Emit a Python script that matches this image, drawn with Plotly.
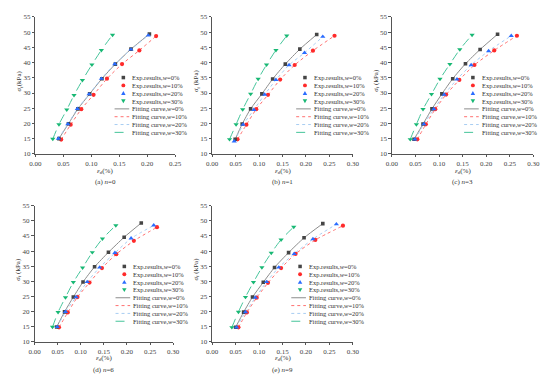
import plotly.graph_objects as go

W, H = 550, 374

# ---------------- data ----------------
W_LABELS = ["0%", "10%", "20%", "30%"]
X_TICKS_A = [0.00, 0.05, 0.10, 0.15, 0.20, 0.25]
X_TICKS = [0.00, 0.05, 0.10, 0.15, 0.20, 0.25, 0.30]
Y_TICKS = [10, 15, 20, 25, 30, 35, 40, 45, 50, 55]

# panel (a) n=0
A_x0 = [0.042, 0.059, 0.076, 0.097, 0.119, 0.143, 0.171, 0.204]
A_y0 = [15.0, 19.9, 24.8, 29.7, 34.7, 39.5, 44.4, 49.4]
A_x10 = [0.046, 0.063, 0.082, 0.104, 0.128, 0.155, 0.186, 0.216]
A_y10 = [14.7, 19.6, 24.7, 29.4, 34.7, 39.5, 44.0, 48.7]
A_x20 = [0.041, 0.058, 0.075, 0.096, 0.118, 0.142, 0.171, 0.202]
A_y20 = [15.0, 19.8, 24.8, 29.6, 34.7, 39.5, 44.3, 48.9]
A_x30 = [0.031, 0.042, 0.056, 0.069, 0.084, 0.101, 0.118, 0.138]
A_y30 = [14.9, 19.7, 24.5, 29.3, 34.2, 39.3, 44.1, 49.1]

# panel (b) n=1
B_x0 = [0.049, 0.064, 0.082, 0.106, 0.129, 0.156, 0.187, 0.223]
B_y0 = [14.8, 19.8, 24.8, 29.7, 34.6, 39.5, 44.4, 49.2]
B_x10 = [0.054, 0.073, 0.094, 0.119, 0.145, 0.176, 0.215, 0.261]
B_y10 = [14.8, 19.6, 24.7, 29.4, 34.4, 39.2, 43.9, 48.8]
B_x20 = [0.047, 0.066, 0.089, 0.112, 0.136, 0.164, 0.197, 0.236]
B_y20 = [14.1, 19.6, 24.5, 29.5, 34.3, 39.2, 43.2, 48.5]
B_x30 = [0.037, 0.051, 0.065, 0.082, 0.098, 0.116, 0.136, 0.159]
B_y30 = [14.8, 19.7, 24.6, 29.7, 34.6, 39.3, 44.1, 48.8]

# panel (c) n=3
C_x0 = [0.047, 0.066, 0.085, 0.106, 0.129, 0.156, 0.187, 0.224]
C_y0 = [14.8, 19.8, 24.8, 29.7, 34.7, 39.6, 44.3, 49.3]
C_x10 = [0.054, 0.072, 0.092, 0.115, 0.143, 0.175, 0.217, 0.265]
C_y10 = [14.8, 19.7, 24.7, 29.5, 34.3, 39.2, 44.0, 48.8]
C_x20 = [0.049, 0.068, 0.089, 0.111, 0.138, 0.168, 0.205, 0.253]
C_y20 = [14.8, 19.8, 24.7, 29.5, 34.5, 39.2, 43.8, 48.8]
C_x30 = [0.039, 0.052, 0.066, 0.084, 0.102, 0.123, 0.144, 0.170]
C_y30 = [14.8, 19.7, 24.7, 29.6, 34.6, 39.5, 44.3, 49.1]

# panel (d) n=6
D_x0 = [0.048, 0.065, 0.084, 0.105, 0.130, 0.160, 0.194, 0.231]
D_y0 = [14.9, 19.9, 24.8, 29.8, 34.8, 39.6, 44.6, 49.3]
D_x10 = [0.053, 0.072, 0.093, 0.119, 0.146, 0.177, 0.215, 0.265]
D_y10 = [14.8, 19.7, 24.8, 29.6, 34.4, 39.0, 43.4, 47.9]
D_x20 = [0.049, 0.067, 0.090, 0.114, 0.141, 0.174, 0.209, 0.258]
D_y20 = [14.9, 19.9, 24.8, 29.8, 34.6, 39.4, 44.2, 48.5]
D_x30 = [0.039, 0.051, 0.067, 0.084, 0.104, 0.125, 0.147, 0.176]
D_y30 = [14.9, 19.8, 24.7, 29.7, 34.5, 39.6, 44.1, 48.5]

# panel (e) n=9
E_x0 = [0.050, 0.067, 0.086, 0.109, 0.133, 0.163, 0.196, 0.236]
E_y0 = [14.8, 19.8, 24.8, 29.7, 34.6, 39.5, 44.4, 49.1]
E_x10 = [0.056, 0.074, 0.095, 0.119, 0.147, 0.178, 0.220, 0.279]
E_y10 = [14.8, 19.7, 24.6, 29.5, 34.4, 39.1, 43.7, 48.4]
E_x20 = [0.052, 0.071, 0.092, 0.116, 0.142, 0.175, 0.215, 0.265]
E_y20 = [14.8, 19.8, 24.6, 29.8, 34.6, 39.1, 44.0, 48.9]
E_x30 = [0.042, 0.056, 0.071, 0.088, 0.106, 0.126, 0.147, 0.174]
E_y30 = [14.8, 19.9, 24.8, 29.7, 34.6, 39.4, 43.8, 48.0]

CAPTIONS = ["(a) <i>n</i>=0", "(b) <i>n</i>=1", "(c) <i>n</i>=3", "(d) <i>n</i>=6", "(e) <i>n</i>=9"]

PANEL_DATA = [
    ([A_x0, A_x10, A_x20, A_x30], [A_y0, A_y10, A_y20, A_y30]),
    ([B_x0, B_x10, B_x20, B_x30], [B_y0, B_y10, B_y20, B_y30]),
    ([C_x0, C_x10, C_x20, C_x30], [C_y0, C_y10, C_y20, C_y30]),
    ([D_x0, D_x10, D_x20, D_x30], [D_y0, D_y10, D_y20, D_y30]),
    ([E_x0, E_x10, E_x20, E_x30], [E_y0, E_y10, E_y20, E_y30]),
]

# ---------------- styles / layout ----------------
# plot-area pixel boxes: (left, right, top, bottom)
BOXES = [
    (22, 165, 5, 145),
    (203, 347, 5, 145),
    (387, 532, 5, 145),
    (21, 163, 198, 337),
    (203, 347, 198, 337),
]
# (x-title offset, caption offset) below the plot area
TITLE_OFFS = [(17, 29), (17, 29), (17, 29), (17, 28.5), (17, 28.5)]
X_RANGES = [[0, 0.25], [0, 0.30], [0, 0.30], [0, 0.30], [0, 0.30]]
LEG_OFFSETS = [90, 95, 83, 92, 90]

MK_SYMBOLS = ["square", "circle", "triangle-up", "triangle-down"]
MK_COLORS = ["#454545", "#ff2a2a", "#2a6cff", "#18b874"]
MK_SIZES = [3.6, 4.2, 4.6, 4.6]
LN_COLORS = ["#8c8c8c", "#ff7070", "#a8cdf2", "#45c49a"]
LN_DASH = ["solid", "dot", "dot", "dash"]

FONT = "Liberation Serif, Times New Roman, serif"
AX_COLOR = "#555555"


def px2x(px):
    return px / W


def px2y(py):
    return 1 - py / H


fig = go.Figure()
layout_axes = {}
annotations = []
shapes = []

for i, ((xs, ys), box, xr) in enumerate(zip(PANEL_DATA, BOXES, X_RANGES)):
    k = "" if i == 0 else str(i + 1)
    xa, ya = "x" + k, "y" + k
    left, right, top, bottom = box
    # fitting curves (behind)
    for j in range(4):
        fig.add_trace(go.Scatter(
            x=xs[j], y=ys[j], xaxis=xa, yaxis=ya, mode="lines",
            line=dict(color=LN_COLORS[j], width=1, dash=LN_DASH[j], shape="spline", smoothing=0.6),
            showlegend=False, hoverinfo="skip"))
    # experimental points
    for j in [1, 0, 2, 3]:
        fig.add_trace(go.Scatter(
            x=xs[j], y=ys[j], xaxis=xa, yaxis=ya, mode="markers",
            marker=dict(symbol=MK_SYMBOLS[j], color=MK_COLORS[j], size=MK_SIZES[j],
                        line=dict(width=0)),
            showlegend=False))

    ticks = X_TICKS_A if i == 0 else X_TICKS
    layout_axes["xaxis" + k] = dict(
        domain=[px2x(left), px2x(right)], range=xr, anchor=ya,
        tickvals=ticks, ticktext=["%.2f" % t for t in ticks],
        showgrid=False, zeroline=False, showline=True, linecolor=AX_COLOR, linewidth=1,
        ticks="outside", ticklen=2.5, tickwidth=1, tickcolor=AX_COLOR,
        tickfont=dict(family=FONT, size=7, color="#444444"))
    layout_axes["yaxis" + k] = dict(
        domain=[px2y(bottom), px2y(top)], range=[10, 55], anchor=xa,
        tickvals=Y_TICKS, ticktext=[str(t) for t in Y_TICKS],
        showgrid=False, zeroline=False, showline=True, linecolor=AX_COLOR, linewidth=1,
        ticks="outside", ticklen=2.5, tickwidth=1, tickcolor=AX_COLOR,
        tickfont=dict(family=FONT, size=7, color="#444444"))

    cx = (left + right) / 2
    t_off, c_off = TITLE_OFFS[i]
    # x title
    annotations.append(dict(
        x=px2x(cx), y=px2y(bottom + t_off), xref="paper", yref="paper",
        text="<i>ε</i><sub>d</sub>(%)", showarrow=False,
        font=dict(family=FONT, size=7, color="#333333"), xanchor="center", yanchor="middle"))
    # caption
    annotations.append(dict(
        x=px2x(cx), y=px2y(bottom + c_off), xref="paper", yref="paper",
        text=CAPTIONS[i], showarrow=False,
        font=dict(family=FONT, size=7, color="#333333"), xanchor="center", yanchor="middle"))
    # y title
    ytxt = "<i>σ</i><sub>f</sub>(kPa)" if i == 0 else "<i>σ</i><sub>f</sub> (kPa)"
    annotations.append(dict(
        x=px2x(left - 17), y=px2y((top + bottom) / 2 - 5), xref="paper", yref="paper",
        text=ytxt, textangle=-90, showarrow=False,
        font=dict(family=FONT, size=7, color="#333333"), xanchor="center", yanchor="middle"))

    # legend (drawn manually, compact)
    mx = left + LEG_OFFSETS[i]
    ty0 = top + 62
    step = 8.0
    for j in range(4):
        yy = ty0 + j * step
        annotations.append(dict(
            x=px2x(mx + 7), y=px2y(yy), xref="paper", yref="paper",
            text="Exp.results,<i>w</i>=" + W_LABELS[j],
            showarrow=False, font=dict(family=FONT, size=6.5, color="#333333"),
            xanchor="left", yanchor="middle"))
        s = 1.8
        if j == 0:
            shapes.append(dict(type="rect", xref="paper", yref="paper",
                               x0=px2x(mx - s), x1=px2x(mx + s), y0=px2y(yy - s), y1=px2y(yy + s),
                               fillcolor=MK_COLORS[j], line=dict(width=0)))
        elif j == 1:
            shapes.append(dict(type="circle", xref="paper", yref="paper",
                               x0=px2x(mx - 2), x1=px2x(mx + 2), y0=px2y(yy - 2), y1=px2y(yy + 2),
                               fillcolor=MK_COLORS[j], line=dict(width=0)))
        elif j == 2:
            shapes.append(dict(type="path", xref="paper", yref="paper",
                               path="M %f %f L %f %f L %f %f Z" % (
                                   px2x(mx - 2.3), px2y(yy + 1.8), px2x(mx + 2.3), px2y(yy + 1.8),
                                   px2x(mx), px2y(yy - 2.2)),
                               fillcolor=MK_COLORS[j], line=dict(width=0)))
        else:
            shapes.append(dict(type="path", xref="paper", yref="paper",
                               path="M %f %f L %f %f L %f %f Z" % (
                                   px2x(mx - 2.3), px2y(yy - 1.8), px2x(mx + 2.3), px2y(yy - 1.8),
                                   px2x(mx), px2y(yy + 2.2)),
                               fillcolor=MK_COLORS[j], line=dict(width=0)))
    for j in range(4):
        yy = ty0 + (j + 4) * step
        shapes.append(dict(
            type="line", xref="paper", yref="paper",
            x0=px2x(mx - 9), x1=px2x(mx + 6), y0=px2y(yy), y1=px2y(yy),
            line=dict(color=LN_COLORS[j], width=1, dash=LN_DASH[j])))
        annotations.append(dict(
            x=px2x(mx + 7), y=px2y(yy), xref="paper", yref="paper",
            text="Fitting curve,<i>w</i>=" + W_LABELS[j],
            showarrow=False, font=dict(family=FONT, size=6.5, color="#333333"),
            xanchor="left", yanchor="middle"))

fig.update_layout(
    width=W, height=H, margin=dict(l=0, r=0, t=0, b=0),
    paper_bgcolor="white", plot_bgcolor="white",
    showlegend=False, annotations=annotations, shapes=shapes,
    **layout_axes)

fig.write_html("out.html")
